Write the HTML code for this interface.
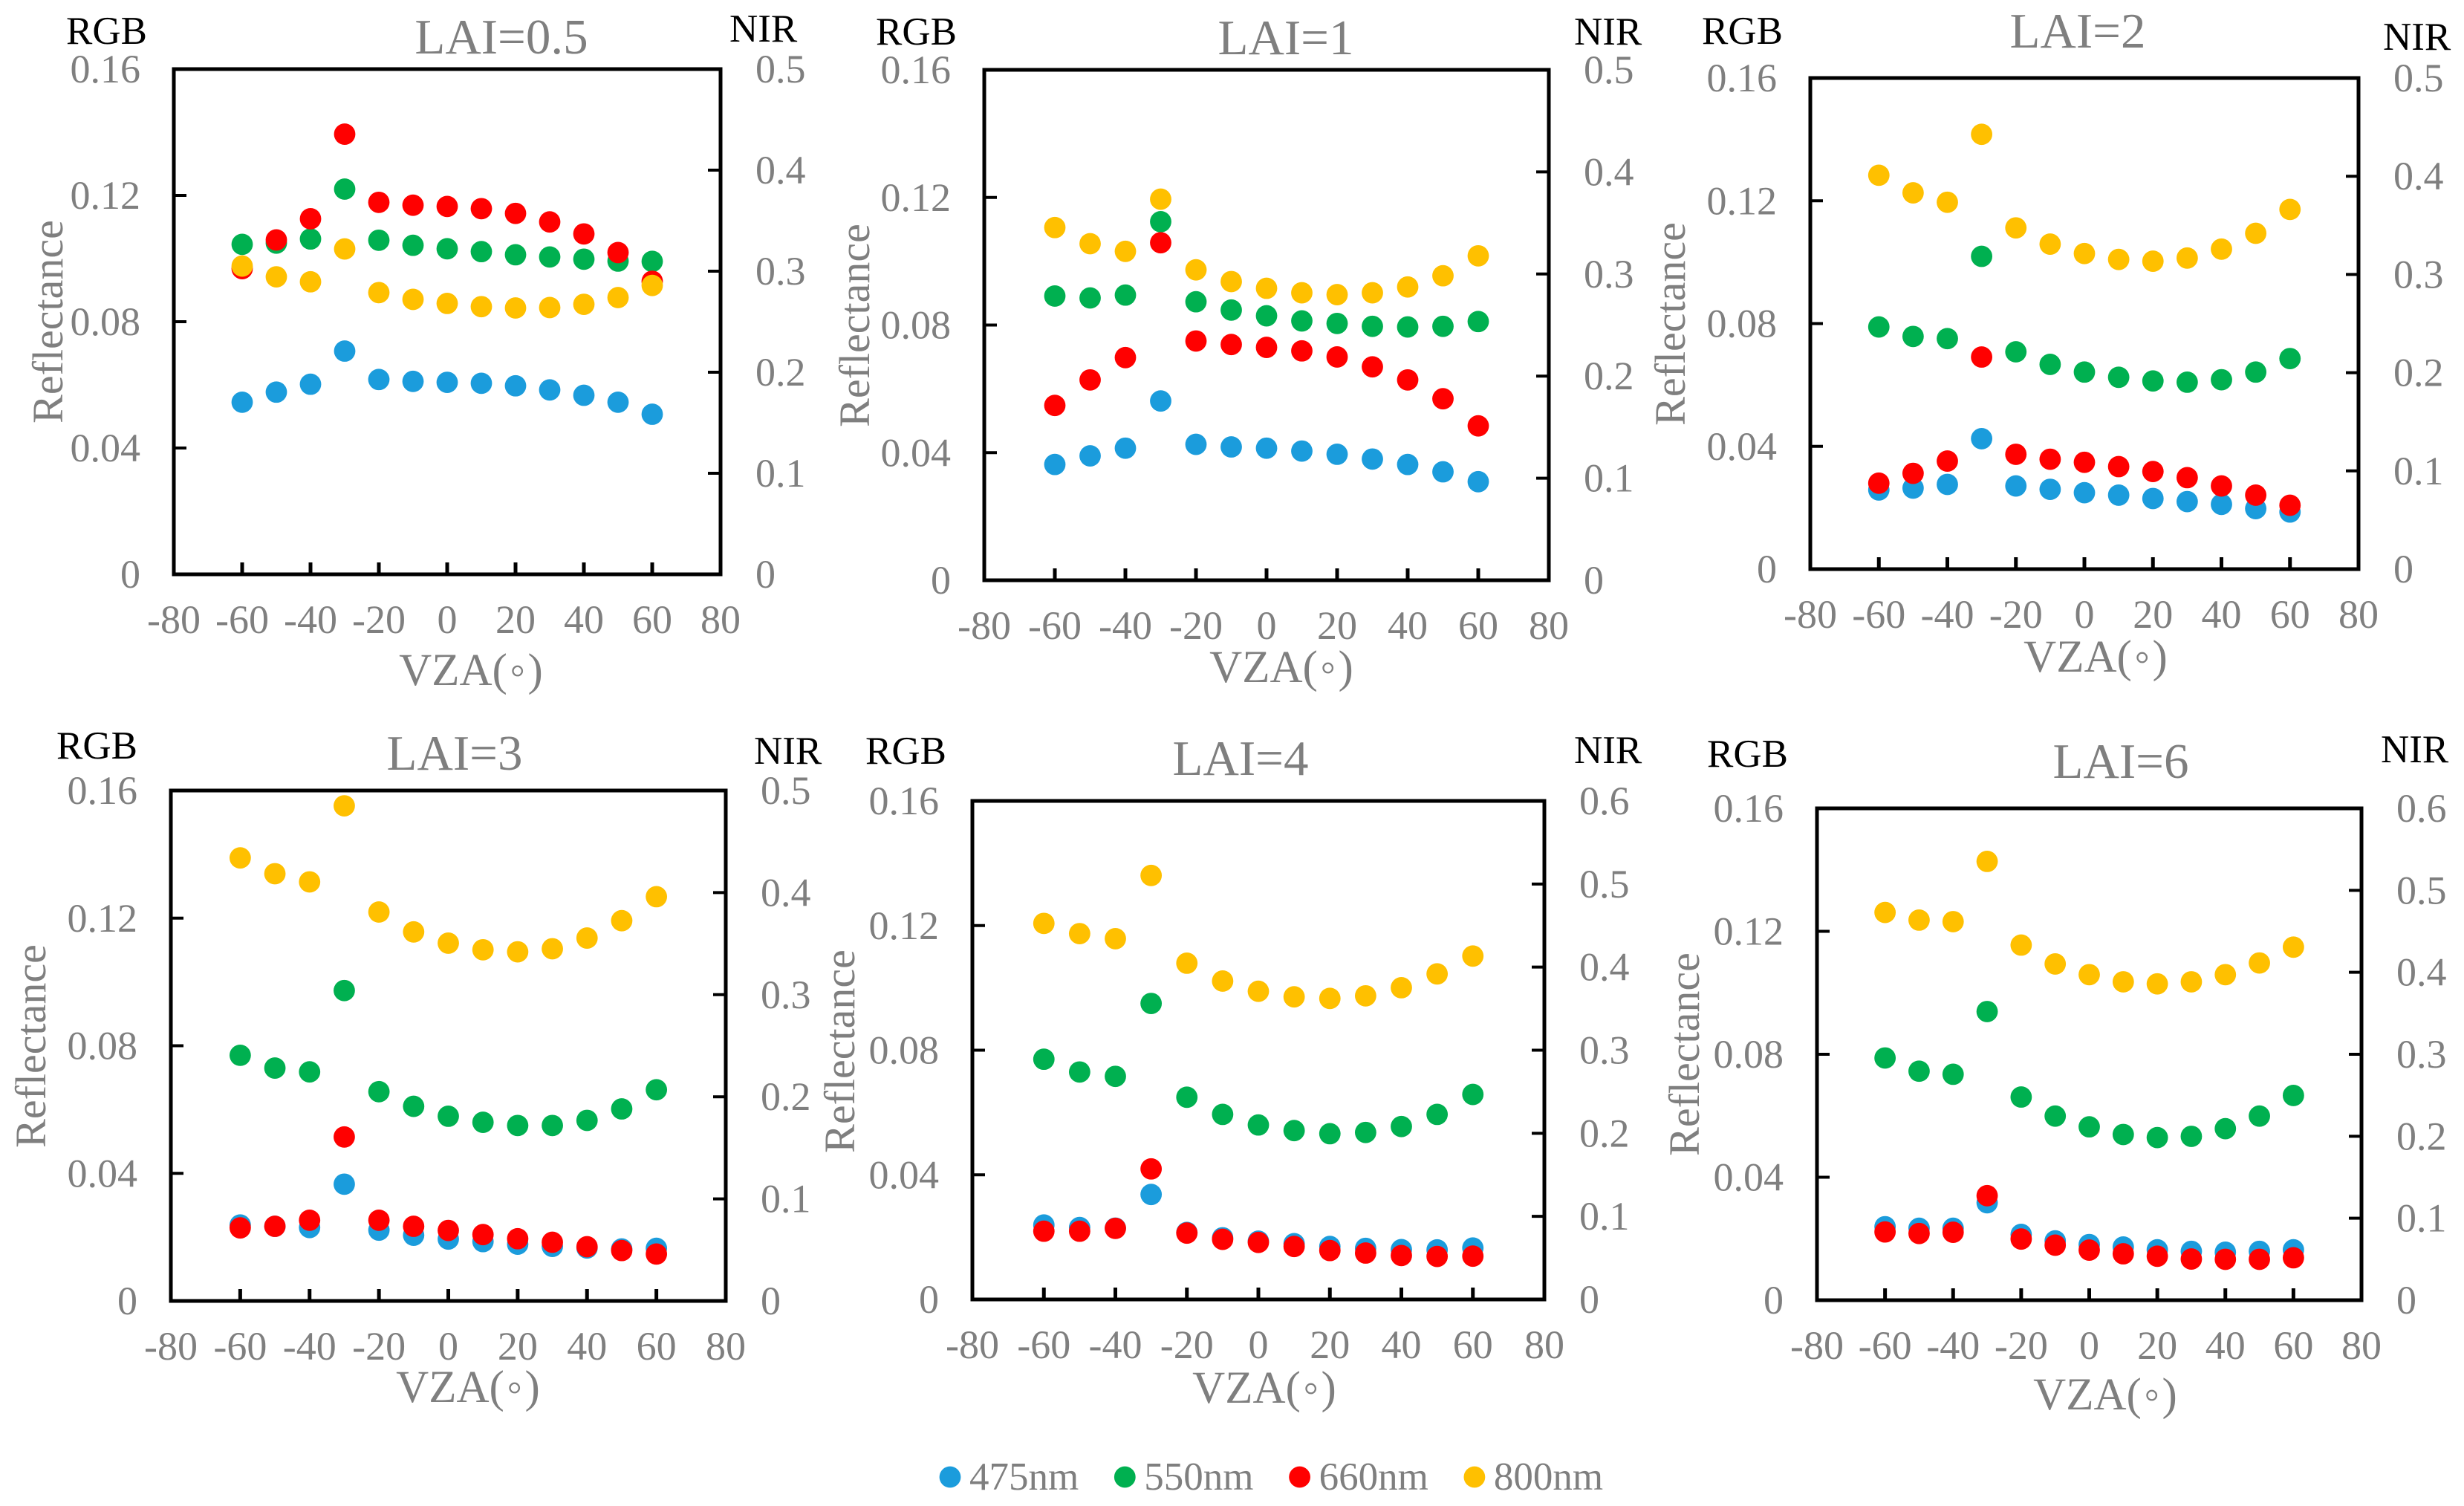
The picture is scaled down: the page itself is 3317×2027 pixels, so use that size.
<!DOCTYPE html>
<html lang="en">
<head>
<meta charset="utf-8">
<title>Reflectance vs VZA by LAI</title>
<style>
html,body{margin:0;padding:0;background:#fff;}
svg{display:block;}
text{font-family:"Liberation Serif","DejaVu Serif",serif;fill:#7f7f7f;}
text.k{fill:#000;}
</style>
</head>
<body>
<svg id="chart" width="3317" height="2027" viewBox="0 0 3317 2027" xmlns="http://www.w3.org/2000/svg"></svg>
<script>
const angles = [-60,-50,-40,-30,-20,-10,0,10,20,30,40,50,60];
const xTickLabels = ['-80','-60','-40','-20','0','20','40','60','80'];
const rgbTickLabels = ['0','0.04','0.08','0.12','0.16'];
const nirTickLabels5 = ['0','0.1','0.2','0.3','0.4','0.5'];
const nirTickLabels6 = ['0','0.1','0.2','0.3','0.4','0.5','0.6'];
const seriesNames = ['475nm','550nm','660nm','800nm'];
const seriesColors = ['#1b9cdc','#00b050','#ff0000','#ffc000'];

const lai05_475 = [.0545,.0577,.0602,.0707,.0617,.0611,.0608,.0605,.0597,.0584,.0567,.0545,.0507];
const lai05_550 = [.1045,.1049,.1062,.1220,.1058,.1042,.1031,.1022,.1012,.1005,.0998,.0992,.0991];
const lai05_660 = [.0968,.1059,.1126,.1394,.1178,.1169,.1165,.1158,.1143,.1116,.1078,.1019,.0928];
const lai05_800 = [.3051,.2944,.2895,.3220,.2788,.2721,.2681,.2649,.2636,.2640,.2672,.2739,.2859];

const lai1_475 = [.0363,.0390,.0414,.0562,.0426,.0418,.0414,.0405,.0395,.0380,.0363,.0340,.0309];
const lai1_550 = [.0891,.0885,.0894,.1124,.0873,.0847,.0829,.0813,.0805,.0796,.0794,.0796,.0811];
const lai1_660 = [.0548,.0628,.0698,.1058,.0750,.0739,.0730,.0719,.0700,.0669,.0628,.0569,.0484];
const lai1_800 = [.3455,.3297,.3222,.3733,.3041,.2926,.2860,.2816,.2798,.2816,.2873,.2983,.3178];

const lai2_475 = [.0258,.0264,.0276,.0425,.0271,.0260,.0249,.0241,.0230,.0220,.0211,.0197,.0186];
const lai2_550 = [.0789,.0758,.0751,.1019,.0708,.0667,.0642,.0625,.0613,.0609,.0617,.0642,.0686];
const lai2_660 = [.0280,.0312,.0352,.0691,.0374,.0358,.0348,.0334,.0318,.0298,.0271,.0241,.0208];
const lai2_800 = [.4010,.3831,.3735,.4427,.3474,.3309,.3213,.3153,.3135,.3167,.3258,.3419,.3662];

const lai3_475 = [.0238,.0234,.0230,.0366,.0222,.0206,.0194,.0186,.0178,.0171,.0166,.0163,.0165];
const lai3_550 = [.0770,.0730,.0718,.0973,.0656,.0610,.0579,.0560,.0550,.0550,.0566,.0602,.0662];
const lai3_660 = [.0229,.0234,.0253,.0514,.0253,.0234,.0221,.0208,.0195,.0184,.0170,.0158,.0147];
const lai3_800 = [.434,.4185,.4105,.485,.381,.3615,.3505,.344,.342,.345,.3555,.3725,.396];

const lai4_475 = [.0239,.0231,.0229,.0337,.0215,.0198,.0187,.0179,.0170,.0164,.0160,.0159,.0165];
const lai4_550 = [.0771,.0730,.0716,.0950,.0649,.0594,.0560,.0542,.0532,.0536,.0555,.0594,.0658];
const lai4_660 = [.0219,.0219,.0228,.0419,.0213,.0193,.0183,.0170,.0157,.0149,.0141,.0138,.0139];
const lai4_800 = [.4526,.4403,.4342,.5103,.4047,.3832,.3709,.3642,.3623,.3654,.3752,.3918,.4133];

const lai6_475 = [.0239,.0234,.0234,.0317,.0214,.0193,.0181,.0173,.0164,.0159,.0156,.0159,.0164];
const lai6_550 = [.0788,.0745,.0735,.0939,.0661,.0599,.0564,.0539,.0529,.0533,.0558,.0599,.0666];
const lai6_660 = [.0222,.0217,.0221,.0340,.0199,.0179,.0163,.0151,.0143,.0134,.0133,.0133,.0138];
const lai6_800 = [.4730,.4637,.4618,.5353,.4332,.4102,.3971,.3884,.3859,.3884,.3971,.4114,.4307];

const panels = [
 {id:'lai-0-5',title:'LAI=0.5',series:[lai05_475,lai05_550,lai05_660,lai05_800],nir:nirTickLabels5,box:[234,93,970,773],titleAt:[675,72],rgbAt:[89,59],nirAt:[982,56],vzaAt:[634,922],refAt:[84,433]},
 {id:'lai-1',title:'LAI=1',series:[lai1_475,lai1_550,lai1_660,lai1_800],nir:nirTickLabels5,box:[1325,94,2085,781],titleAt:[1731,73],rgbAt:[1179,60],nirAt:[2119,60],vzaAt:[1725,918],refAt:[1170,438]},
 {id:'lai-2',title:'LAI=2',series:[lai2_475,lai2_550,lai2_660,lai2_800],nir:nirTickLabels5,box:[2437,105,3175,766],titleAt:[2797,64],rgbAt:[2291,59],nirAt:[3208,67],vzaAt:[2821,904],refAt:[2268,436]},
 {id:'lai-3',title:'LAI=3',series:[lai3_475,lai3_550,lai3_660,lai3_800],nir:nirTickLabels5,box:[230,1064,977,1751],titleAt:[612,1036],rgbAt:[76,1021],nirAt:[1015,1028],vzaAt:[630,1887],refAt:[61,1408]},
 {id:'lai-4',title:'LAI=4',series:[lai4_475,lai4_550,lai4_660,lai4_800],nir:nirTickLabels6,box:[1309,1078,2079,1749],titleAt:[1670,1043],rgbAt:[1165,1028],nirAt:[2119,1027],vzaAt:[1702,1888],refAt:[1150,1415]},
 {id:'lai-6',title:'LAI=6',series:[lai6_475,lai6_550,lai6_660,lai6_800],nir:nirTickLabels6,box:[2446,1088,3179,1750],titleAt:[2855,1047],rgbAt:[2298,1032],nirAt:[3205,1026],vzaAt:[2834,1897],refAt:[2287,1419]}
];

const NS = 'http://www.w3.org/2000/svg';
const root = document.getElementById('chart');

function make(tag, name, parent) {
  const el = document.createElementNS(NS, tag);
  
  
  parent.appendChild(el);
  return el;
}
function label(parent, name, str, x, y, size, anchor, cls) {
  const t = make('text', name, parent);
  t.setAttribute('x', x);
  t.setAttribute('y', y);
  t.setAttribute('font-size', size);
  t.setAttribute('text-anchor', anchor);
  if (cls) t.setAttribute('class', cls);
  t.textContent = str;
  return t;
}
function rule(parent, name, x1, y1, x2, y2, w) {
  const l = make('line', name, parent);
  l.setAttribute('x1', x1);
  l.setAttribute('y1', y1);
  l.setAttribute('x2', x2);
  l.setAttribute('y2', y2);
  l.setAttribute('stroke', '#000');
  l.setAttribute('stroke-width', w);
  return l;
}
function dot(parent, name, cx, cy, fill) {
  const c = make('circle', name, parent);
  c.setAttribute('cx', cx);
  c.setAttribute('cy', cy);
  c.setAttribute('r', 14.4);
  c.setAttribute('fill', fill);
  return c;
}
function xScale(p, v) { return p.box[0] + (v + 80) / 160 * (p.box[2] - p.box[0]); }
function yRgb(p, v) { return p.box[3] - v / 0.16 * (p.box[3] - p.box[1]); }
function yNir(p, v) {
  const max = parseFloat(p.nir[p.nir.length - 1]);
  return p.box[3] - v / max * (p.box[3] - p.box[1]);
}
function vzaTitle(parent, p) {
  const t = label(parent, 'x-axis-title', 'VZA(', p.vzaAt[0], p.vzaAt[1], 61, 'middle');
  const ring = make('tspan', 'degree-ring', t);
  ring.setAttribute('dx', '3');
  ring.textContent = '\u25E6';
  const close = make('tspan', 'closing-paren', t);
  close.setAttribute('dx', '3');
  close.textContent = ')';
}

panels.forEach(function (p) {
  const g = make('g', 'panel-' + p.id, root);
  const L = p.box[0], T = p.box[1], R = p.box[2], B = p.box[3];

  label(g, 'panel-title', p.title, p.titleAt[0], p.titleAt[1], 67, 'middle');
  label(g, 'rgb-axis-caption', 'RGB', p.rgbAt[0], p.rgbAt[1], 53, 'start', 'k');
  label(g, 'nir-axis-caption', 'NIR', p.nirAt[0], p.nirAt[1], 53, 'start', 'k');
  vzaTitle(g, p);
  const yt = label(g, 'y-axis-title', 'Reflectance', 0, 0, 58, 'middle');
  yt.setAttribute('transform', 'translate(' + p.refAt[0] + ' ' + p.refAt[1] + ') rotate(-90)');

  const frame = make('rect', 'plot-frame', g);
  frame.setAttribute('x', L);
  frame.setAttribute('y', T);
  frame.setAttribute('width', R - L);
  frame.setAttribute('height', B - T);
  frame.setAttribute('fill', 'none');
  frame.setAttribute('stroke', '#000');
  frame.setAttribute('stroke-width', 5);

  xTickLabels.forEach(function (s) {
    const v = parseFloat(s);
    const x = xScale(p, v);
    if (Math.abs(v) < 80) rule(g, 'x-tick', x, B, x, B - 16, 5);
    label(g, 'x-tick-label', s, x, B + 79, 54, 'middle');
  });
  rgbTickLabels.forEach(function (s, i) {
    const y = yRgb(p, parseFloat(s));
    if (i > 0 && i < rgbTickLabels.length - 1) rule(g, 'rgb-tick', L, y, L + 17, y, 4);
    label(g, 'rgb-tick-label', s, L - 45, y + 18, 54, 'end');
  });
  p.nir.forEach(function (s, i) {
    const y = yNir(p, parseFloat(s));
    if (i > 0 && i < p.nir.length - 1) rule(g, 'nir-tick', R, y, R - 17, y, 4);
    label(g, 'nir-tick-label', s, R + 47, y + 18, 54, 'start');
  });

  p.series.forEach(function (vals, si) {
    const sg = make('g', 'series-' + seriesNames[si], g);
    vals.forEach(function (v, i) {
      const y = si === 3 ? yNir(p, v) : yRgb(p, v);
      dot(sg, 'point-' + seriesNames[si], xScale(p, angles[i]), y, seriesColors[si]);
    });
  });
});

const legend = make('g', 'legend', root);
seriesNames.forEach(function (n, i) {
  const entry = make('g', 'legend-entry-' + n, legend);
  const x = 1279 + i * 235.3;
  dot(entry, 'legend-marker', x, 1988, seriesColors[i]);
  label(entry, 'legend-label', n, x + 26, 2005, 53, 'start');
});
</script>
</body>
</html>
